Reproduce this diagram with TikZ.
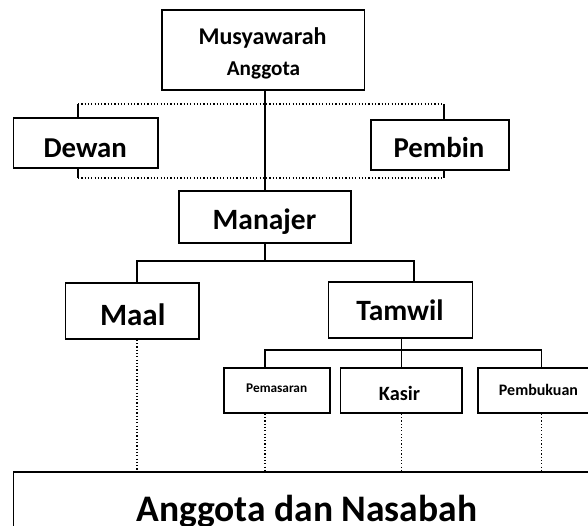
\documentclass[tikz,border=0pt]{standalone}
\usepackage{fontspec}
\setmainfont{Carlito}
\begin{document}
\begin{tikzpicture}[x=1pt,y=-1pt,
  box/.style={draw,line width=1.5pt,inner sep=0pt,rectangle},
  lbl/.style={anchor=base,inner sep=0pt,font=\bfseries},
  solidln/.style={line width=1.5pt},
  dotln/.style={line width=1.2pt,dash pattern=on 1.2pt off 2.1pt}]
\useasboundingbox (0,0) rectangle (588,526);
\begin{scope}
\clip (0,0) rectangle (588,526);
% boxes
\node[box,minimum width=202.5pt,minimum height=80pt] (mus) at (263.25,50) {};
\node[box,minimum width=144.5pt,minimum height=50pt] (dewan) at (85.75,143) {};
\node[box,minimum width=138pt,minimum height=50pt] (pembin) at (440,145) {};
\node[box,minimum width=172pt,minimum height=52pt] (manajer) at (265,217) {};
\node[box,minimum width=133.4pt,minimum height=56pt] (maal) at (132.3,311) {};
\node[box,minimum width=144pt,minimum height=56pt] (tamwil) at (400.5,310) {};
\node[box,minimum width=106pt,minimum height=45pt] (pemasaran) at (277,390.5) {};
\node[box,minimum width=121.5pt,minimum height=45pt] (kasir) at (401.25,390.5) {};
\node[box,minimum width=121pt,minimum height=45pt] (pembukuan) at (538.5,390.5) {};
\node[box,minimum width=587pt,minimum height=90pt] (anggota) at (307,517) {};
% labels
\node[lbl,font=\bfseries\fontsize{24}{24}\selectfont] (musA) at (262.5,45) {Musyawarah};
\node[lbl,font=\bfseries\fontsize{21.2}{21.2}\selectfont] (musB) at (263.5,75.5) {Anggota};
\node[lbl,font=\bfseries\fontsize{28.8}{28.8}\selectfont] (dewanT) at (85.2,158) {Dewan};
\node[lbl,font=\bfseries\fontsize{28.8}{28.8}\selectfont] (pembinT) at (439,158) {Pembin};
\node[lbl,font=\bfseries\fontsize{29.5}{29.5}\selectfont] (manajerT) at (264.5,230) {Manajer};
\node[lbl,font=\bfseries\fontsize{31}{31}\selectfont] (maalT) at (132.7,325) {Maal};
\node[lbl,font=\bfseries\fontsize{29.5}{29.5}\selectfont] (tamwilT) at (400,320) {Tamwil};
\node[lbl,font=\bfseries\fontsize{13.3}{13.3}\selectfont] (pemasaranT) at (276.7,392) {Pemasaran};
\node[lbl,font=\bfseries\fontsize{20.3}{20.3}\selectfont] (kasirT) at (399.5,400) {Kasir};
\node[lbl,font=\bfseries\fontsize{16}{16}\selectfont] (pembukuanT) at (538.5,395) {Pembukuan};
\node[lbl,font=\bfseries\fontsize{37.5}{37.5}\selectfont] (anggotaT) at (306.7,521) {Anggota dan Nasabah};
% bus coordinates
\coordinate (tL) at (78,104);
\coordinate (tR) at (444,104);
\coordinate (bL) at (78,178);
\coordinate (bR) at (444,178);
\coordinate (mBus) at (265,261);
\coordinate (mL) at (137,261);
\coordinate (mR) at (414,261);
\coordinate (tBus) at (401.6,350);
\coordinate (tBL) at (265,350);
\coordinate (tBR) at (541.5,350);
% dotted frame for Dewan / Pembin
\draw[dotln] (tL) -- (tR);
\draw[dotln] (bL) -- (bR);
\draw[solidln] (tL) -- (tL |- dewan.north);
\draw[solidln] (bL |- dewan.south) -- (bL);
\draw[solidln] (tR) -- (tR |- pembin.north);
\draw[solidln] (bR |- pembin.south) -- (bR);
% main line
\draw[solidln] (mus.south -| manajer.north) -- (manajer.north);
% manajer tree
\draw[solidln] (manajer.south) -- (mBus);
\draw[solidln] (mL |- maal.north) -- (mL) -- (mR) -- (mR |- tamwil.north);
% tamwil tree
\draw[solidln] (tBus |- tamwil.south) -- (tBus |- kasir.north);
\draw[solidln] (tBL |- pemasaran.north) -- (tBL) -- (tBR) -- (tBR |- pembukuan.north);
% dotted links to anggota
\draw[dotln] (mL |- maal.south) -- (mL |- anggota.north);
\draw[dotln] (tBL |- pemasaran.south) -- (tBL |- anggota.north);
\draw[dotln] (tBus |- kasir.south) -- (tBus |- anggota.north);
\draw[dotln] (tBR |- pembukuan.south) -- (tBR |- anggota.north);
\end{scope}
\end{tikzpicture}
\end{document}
